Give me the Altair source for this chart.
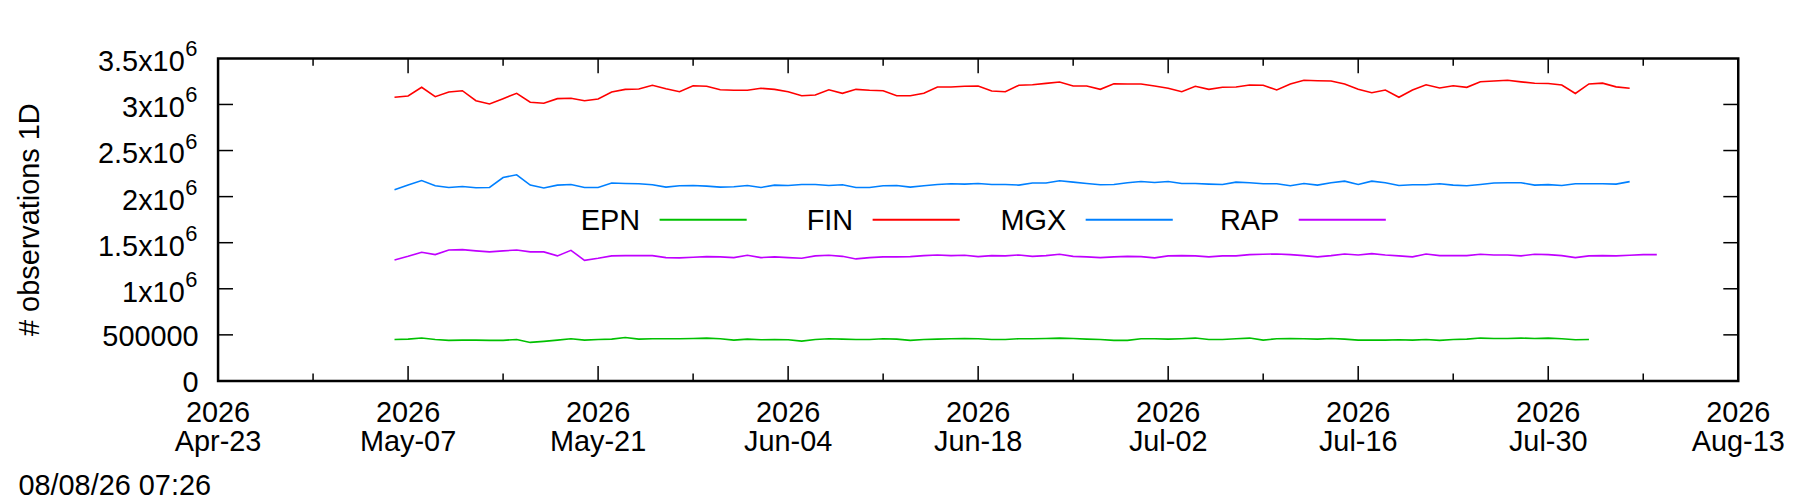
import altair as alt
import pandas as pd

# daily series, first day 2026-05-06, values in thousands of observations
START = "2026-05-06"
SERIES = ["EPN", "FIN", "MGX", "RAP"]
COLORS = ["#00c000", "#ff0000", "#0080ff", "#c000ff"]

epn = [450, 454, 465, 450, 440, 443, 443, 440, 440, 450, 418, 429, 443, 458, 443, 450, 454, 472, 454, 458,
       458, 458, 461, 465, 458, 443, 454,
       447, 450, 447, 432, 450, 458, 454, 450, 450, 458, 454, 440, 450, 454, 458, 461, 458, 450, 450, 458,
       458, 461, 465, 461, 454, 450, 440, 440, 458, 458, 454, 458, 465, 450,
       450, 458, 465, 443, 458, 461, 458, 454, 461, 454, 443, 443, 443, 447, 443, 450, 440, 450, 454, 465,
       461, 461, 465, 461, 465, 458, 447, 450]
fin = [3078, 3092, 3186, 3084, 3135, 3149, 3041, 3005, 3063, 3121, 3024, 3013, 3063, 3067, 3041, 3059,
       3135, 3164, 3168, 3208, 3171, 3138, 3203, 3197, 3160, 3154, 3154,
       3175, 3164, 3138, 3095, 3103, 3160, 3121, 3164, 3154, 3149, 3095, 3095, 3121, 3189, 3189, 3197,
       3200, 3146, 3138, 3208, 3214, 3229, 3243, 3200, 3200, 3164, 3225, 3222, 3222, 3200, 3175, 3138,
       3197, 3164,
       3186, 3189, 3211, 3208, 3157, 3222, 3262, 3258, 3254, 3222, 3164, 3128, 3157, 3078, 3157, 3214,
       3178, 3203, 3186, 3247, 3254, 3262, 3245, 3231, 3227, 3211, 3119, 3223, 3231, 3191, 3175]
mgx = [2074, 2125, 2175, 2118, 2099, 2110, 2096, 2099, 2207, 2237, 2125, 2093, 2125, 2132, 2099, 2099,
       2147, 2143, 2139, 2128, 2103, 2118, 2121, 2114, 2103, 2107, 2121,
       2099, 2125, 2121, 2132, 2132, 2121, 2128, 2099, 2099, 2118, 2121, 2103, 2118, 2132, 2139, 2136,
       2143, 2132, 2132, 2125, 2147, 2147, 2172, 2157, 2143, 2128, 2132, 2150, 2164, 2154, 2164, 2143,
       2143, 2136,
       2132, 2157, 2150, 2139, 2139, 2118, 2143, 2125, 2150, 2168, 2132, 2168, 2150, 2121, 2128, 2128,
       2139, 2125, 2118, 2132, 2148, 2150, 2150, 2125, 2130, 2121, 2139, 2139, 2139, 2136, 2163]
rap = [1313, 1352, 1396, 1371, 1421, 1425, 1411, 1400, 1411, 1421, 1400, 1400, 1357, 1417, 1309, 1331,
       1357, 1360, 1360, 1360, 1338, 1335, 1342, 1349, 1346, 1338, 1363,
       1338, 1346, 1338, 1331, 1357, 1363, 1352, 1324, 1338, 1346, 1346, 1349, 1360, 1367, 1360, 1363,
       1349, 1360, 1357, 1367, 1352, 1360, 1374, 1352, 1346, 1338, 1346, 1352, 1349, 1335, 1357, 1360,
       1357, 1346,
       1357, 1357, 1371, 1374, 1378, 1371, 1360, 1346, 1360, 1378, 1367, 1381, 1367, 1357, 1346, 1378,
       1360, 1360, 1360, 1374, 1367, 1367, 1357, 1374, 1371, 1360, 1338, 1357, 1360, 1357, 1363, 1371,
       1371]

MAJOR_DAYS = ["2026-04-23", "2026-05-07", "2026-05-21", "2026-06-04", "2026-06-18",
              "2026-07-02", "2026-07-16", "2026-07-30", "2026-08-13"]
MINOR_DAYS = ["2026-04-30", "2026-05-14", "2026-05-28", "2026-06-11",
              "2026-06-25", "2026-07-09", "2026-07-23", "2026-08-06"]
Y_TICKS = [0, 500000, 1000000, 1500000, 2000000, 2500000, 3000000, 3500000]
Y_BASE = ["0", "500000", "1x10", "1.5x10", "2x10", "2.5x10", "3x10", "3.5x10"]
Y_SUP = ["", "", "6", "6", "6", "6", "6", "6"]
STAMP = "08/08/26 07:26"

W, H = 1527, 324
FONT = "Liberation Sans"
FS = 29

rows = []
for name, vals in zip(SERIES, [epn, fin, mgx, rap]):
    days = pd.date_range(START, periods=len(vals), freq="D").strftime("%Y-%m-%d")
    for d, v in zip(days, vals):
        rows.append({"date": d, "obs": v * 1000, "series": name})
df = pd.DataFrame(rows)


def ms(s):
    return int(pd.Timestamp(s, tz="UTC").value // 10**6)


xscale = alt.Scale(type="utc", domain=[ms(MAJOR_DAYS[0]), ms(MAJOR_DAYS[-1])])
yscale = alt.Scale(domain=[0, 3500000], nice=False)
cscale = alt.Scale(domain=SERIES, range=COLORS)
xx = alt.X("date:T", scale=xscale, axis=None)
yy = alt.Y("v:Q", scale=yscale, axis=None)
txt = dict(font=FONT, color="black", baseline="middle")

lines = alt.Chart(df).mark_line(strokeWidth=1.6).encode(
    x=xx,
    y=alt.Y("obs:Q", scale=yscale, axis=None),
    color=alt.Color("series:N", scale=cscale, legend=None),
)

# inward ticks on all four sides, gnuplot style
major = pd.DataFrame({"date": MAJOR_DAYS})
minor = pd.DataFrame({"date": MINOR_DAYS})
yt = pd.DataFrame({"v": Y_TICKS[1:-1]})


def xticks(data, length):
    base = alt.Chart(data).mark_rule(color="black", strokeWidth=1.5)
    return (base.encode(x=xx, y=alt.value(H), y2=alt.value(H - length))
            + base.encode(x=xx, y=alt.value(0), y2=alt.value(length)))


yrule = alt.Chart(yt).mark_rule(color="black", strokeWidth=1.5)
yticks = (yrule.encode(y=yy, x=alt.value(0), x2=alt.value(15))
          + yrule.encode(y=yy, x=alt.value(W - 15), x2=alt.value(W)))

# two-line date labels under the x axis
xlab = pd.DataFrame({
    "date": MAJOR_DAYS,
    "yr": pd.to_datetime(MAJOR_DAYS).strftime("%Y"),
    "md": pd.to_datetime(MAJOR_DAYS).strftime("%b-%d"),
})
xlab_yr = alt.Chart(xlab).mark_text(align="center", baseline="top", fontSize=FS, font=FONT,
                                    color="black").encode(x=xx, y=alt.value(H + 18), text="yr:N")
xlab_md = alt.Chart(xlab).mark_text(align="center", baseline="top", fontSize=FS, font=FONT,
                                    color="black").encode(x=xx, y=alt.value(H + 47), text="md:N")

# y tick labels with raised exponent
ylab = pd.DataFrame({"v": Y_TICKS, "base": Y_BASE, "sup": Y_SUP})
ylab_plain = alt.Chart(ylab).transform_filter("datum.sup == ''").mark_text(
    align="right", fontSize=FS, dy=2, **txt).encode(y=yy, x=alt.value(-19.5), text="base:N")
ylab_base = alt.Chart(ylab).transform_filter("datum.sup != ''").mark_text(
    align="right", fontSize=FS, dy=4, **txt).encode(y=yy, x=alt.value(-33.5), text="base:N")
ylab_sup = alt.Chart(ylab).transform_filter("datum.sup != ''").mark_text(
    align="left", fontSize=22, dy=-9, **txt).encode(y=yy, x=alt.value(-33), text="sup:N")

ytitle = alt.Chart(pd.DataFrame({"t": ["# observations 1D"]})).mark_text(
    angle=270, align="center", fontSize=FS, **txt).encode(
    x=alt.value(-189), y=alt.value(H / 2), text="t:N")

stamp = alt.Chart(pd.DataFrame({"t": [STAMP]})).mark_text(
    align="left", baseline="alphabetic", fontSize=FS, font=FONT, color="black").encode(
    x=alt.value(-200.5), y=alt.value(439), text="t:N")

# key inside the plot: label, then line sample
key_layers = []
for i, (name, col) in enumerate(zip(SERIES, COLORS)):
    kd = pd.DataFrame({"t": [name]})
    key_layers.append(alt.Chart(kd).mark_text(align="right", fontSize=FS, **txt).encode(
        x=alt.value(424 + 214 * i), y=alt.value(163.5), text="t:N"))
    key_layers.append(alt.Chart(kd).mark_rule(color=col, strokeWidth=2).encode(
        x=alt.value(443.5 + 214 * i), x2=alt.value(531 + 214 * i), y=alt.value(162.2)))

chart = alt.layer(
    lines, xticks(major, 15), xticks(minor, 7.5), yticks, xlab_yr, xlab_md,
    ylab_plain, ylab_base, ylab_sup, ytitle, stamp, *key_layers
).properties(
    width=W, height=H,
    autosize=alt.AutoSizeParams(type="none"),
    padding={"left": 211, "top": 49.5, "right": 54, "bottom": 120},
).configure_view(stroke="black", strokeWidth=2.5)

chart.save("out.html", embed_options={"renderer": "svg", "actions": False})
